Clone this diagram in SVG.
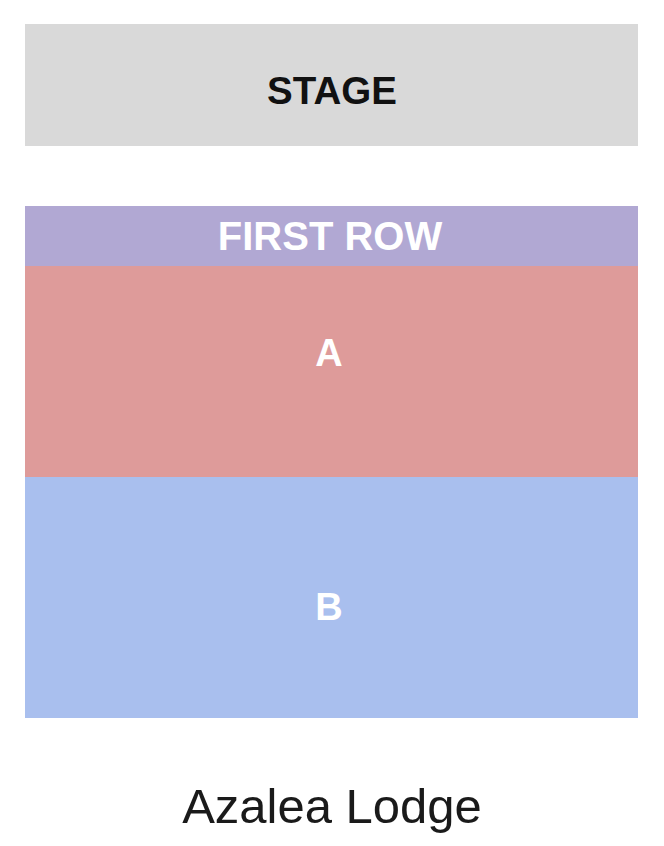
<svg xmlns="http://www.w3.org/2000/svg" width="664" height="846" viewBox="0 0 664 846">
<style>
.lbl{font-family:"Liberation Sans",Arial,sans-serif;font-weight:bold;text-anchor:middle}
.w{fill:#ffffff}
</style>
<rect width="664" height="846" fill="#ffffff"/>
<g id="stage">
<rect x="25" y="24" width="613" height="122" fill="#d9d9d9"/>
<text class="lbl" x="332" y="104" font-size="38.5" fill="#111111">STAGE</text>
</g>
<g id="first-row">
<rect x="25" y="206" width="613" height="60" fill="#b1a8d3"/>
<text class="lbl w" x="330" y="250" font-size="40">FIRST ROW</text>
</g>
<g id="section-a">
<rect x="25" y="266" width="613" height="211" fill="#de9b9a"/>
<text class="lbl w" x="329" y="366" font-size="38">A</text>
</g>
<g id="section-b">
<rect x="25" y="477" width="613" height="241" fill="#a9bfee"/>
<text class="lbl w" x="329" y="620" font-size="38">B</text>
</g>
<g id="connectors"/>
<text x="332" y="823" font-family="'Liberation Sans',Arial,sans-serif" font-size="49" text-anchor="middle" fill="#1a1a1a">Azalea Lodge</text>
</svg>
